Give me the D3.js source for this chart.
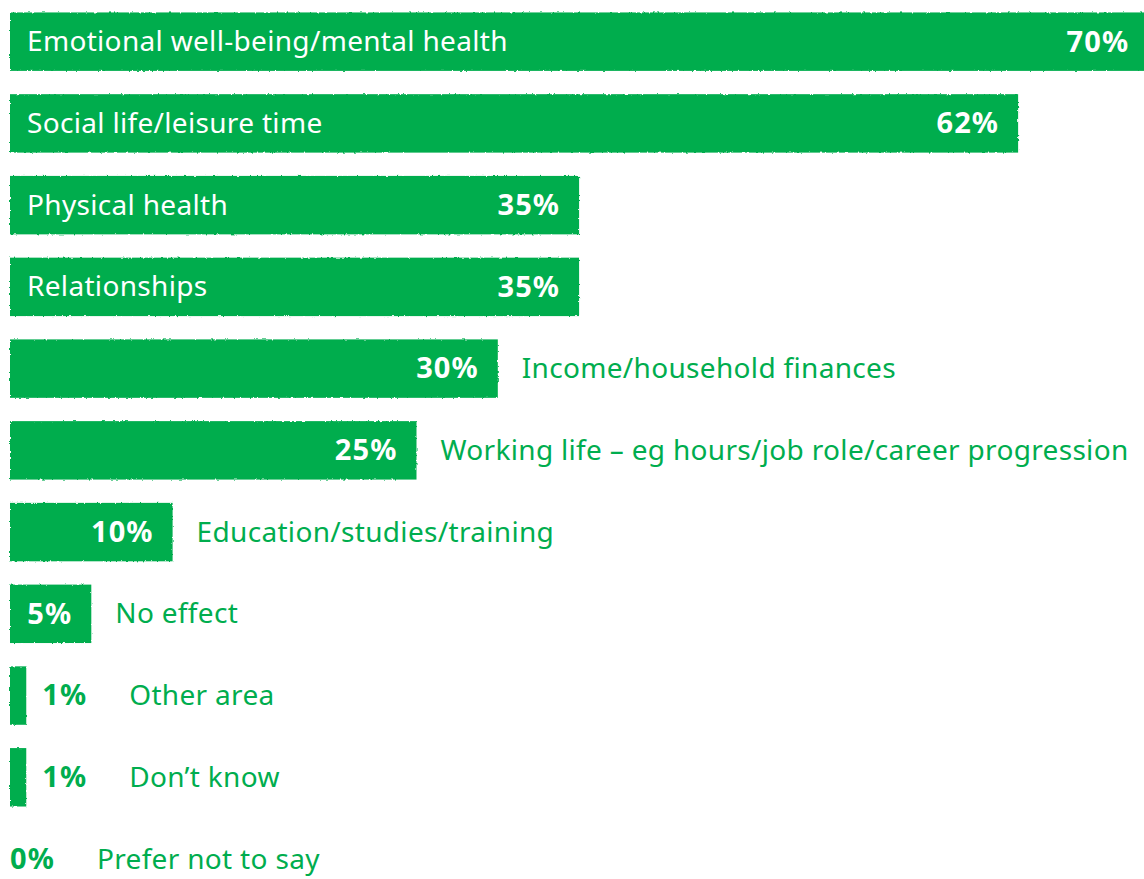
<!DOCTYPE html>
<html>
<head>
<meta charset="utf-8">
<script src="https://cdn.jsdelivr.net/npm/d3@7"></script>
<style>
  html, body { margin: 0; padding: 0; background: #ffffff; }
  svg { display: block; }
  text { font-family: "Noto Sans", "Open Sans", sans-serif; }
</style>
</head>
<body>
<svg id="chart" width="1144" height="879"></svg>
<script>
// Areas of life affected (share of respondents, %)
const categories = [
  "Emotional well-being/mental health",
  "Social life/leisure time",
  "Physical health",
  "Relationships",
  "Income/household finances",
  "Working life \u2013 eg hours/job role/career progression",
  "Education/studies/training",
  "No effect",
  "Other area",
  "Don\u2019t know",
  "Prefer not to say"
];
const values = [70, 62, 35, 35, 30, 25, 10, 5, 1, 1, 0];

const green = "#00ad4e";

const svg = d3.select("#chart");

// rough, brush-like edges for the bars
const defs = svg.append("defs");
const f = defs.append("filter").attr("id", "rough")
  .attr("x", "-2%").attr("y", "-10%").attr("width", "104%").attr("height", "120%");
f.append("feTurbulence").attr("type", "fractalNoise").attr("baseFrequency", "0.35")
  .attr("numOctaves", 2).attr("seed", 4).attr("result", "noise");
f.append("feDisplacementMap").attr("in", "SourceGraphic").attr("in2", "noise")
  .attr("scale", 2.6).attr("xChannelSelector", "R").attr("yChannelSelector", "G");

const x = d3.scaleLinear().domain([0, 70]).range([10, 1148.2]);
const y = d3.scaleBand().domain(categories).range([1, 1 + 81.7 * 11]).paddingInner(0.285).paddingOuter(0.14);

const rows = svg.append("g").selectAll("g.row")
  .data(categories.map((c, i) => ({ c, v: values[i] })))
  .join("g").attr("class", "row");

rows.filter(d => d.v > 0).append("rect")
  .attr("x", x(0))
  .attr("y", d => y(d.c))
  .attr("width", d => x(d.v) - x(0))
  .attr("height", y.bandwidth())
  .attr("fill", green)
  .attr("filter", "url(#rough)");

rows.each(function (d) {
  const g = d3.select(this);
  const cy = y(d.c) + y.bandwidth() / 2;
  const end = x(d.v);
  const valInside = d.v >= 5;
  const catInside = d.v >= 35;

  const val = g.append("text")
    .attr("y", cy).attr("dy", "0.34em")
    .attr("font-size", 29).attr("font-weight", 700)
    .attr("letter-spacing", 1.1)
    .attr("fill", valInside ? "#ffffff" : green)
    .text(d.v + "%");

  let valEnd;
  if (valInside) {
    val.attr("x", end - 19).attr("text-anchor", "end");
    valEnd = end;
  } else {
    const start = d.v > 0 ? end + 16 : x(0);
    val.attr("x", start);
    valEnd = start + val.node().getComputedTextLength() + 18;
  }

  const cat = g.append("text")
    .attr("y", cy).attr("dy", "0.34em")
    .attr("font-size", 28).attr("font-weight", 400)
    .attr("letter-spacing", 0.32)
    .attr("fill", catInside ? "#ffffff" : green)
    .text(d.c);
  cat.attr("x", catInside ? x(0) + 17 : valEnd + 24);
});
</script>
</body>
</html>
